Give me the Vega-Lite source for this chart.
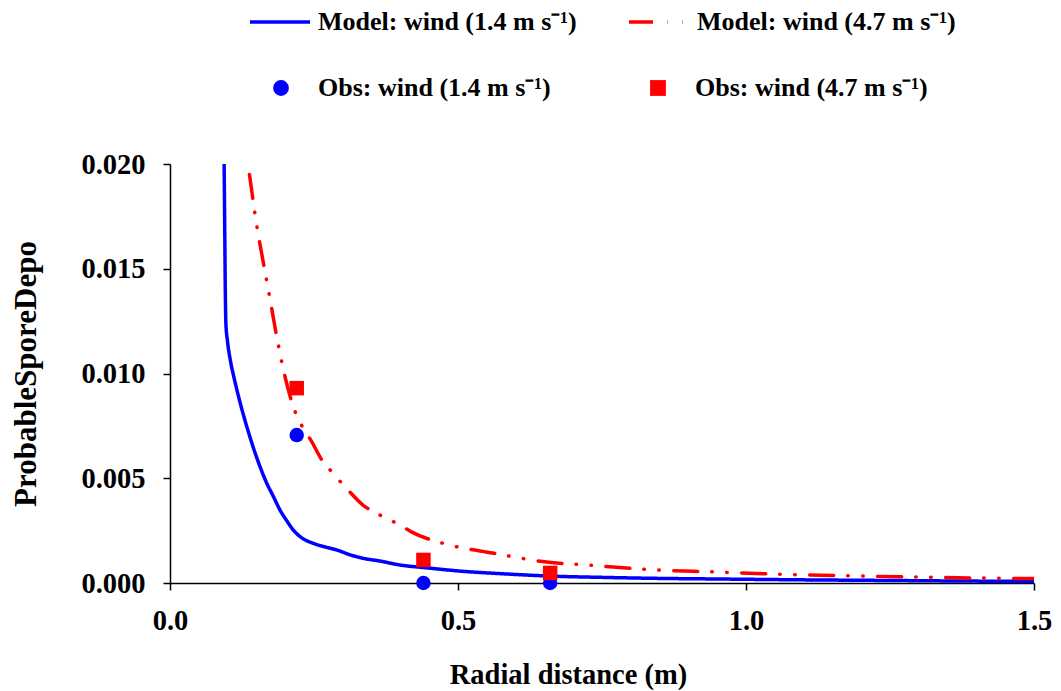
{
  "$schema": "https://vega.github.io/schema/vega-lite/v6.json",
  "width": 864,
  "height": 419,
  "autosize": {"type": "none"},
  "padding": {"left": 170, "top": 164, "right": 27, "bottom": 108},
  "background": "white",
  "config": {
    "view": {"stroke": null},
    "font": "Liberation Serif",
    "axis": {
      "grid": false,
      "domainColor": "black",
      "domainWidth": 1.5,
      "tickColor": "black",
      "tickWidth": 1.5,
      "tickSize": 7,
      "labelFont": "Liberation Serif",
      "labelFontWeight": "bold",
      "labelFontSize": 28.5,
      "labelColor": "black",
      "labelFlush": false,
      "labelOverlap": false,
      "titleFont": "Liberation Serif",
      "titleFontWeight": "bold",
      "titleFontSize": 28.5,
      "titleColor": "black"
    },
    "legend": {
      "labelFont": "Liberation Serif",
      "labelFontWeight": "bold",
      "labelFontSize": 26,
      "labelColor": "black",
      "padding": 0,
      "labelLimit": 1000
    }
  },
  "datasets": {
    "model": [
      {"series": "Model: wind (1.4 m s⁻¹)", "distance": 0.094, "deposition": 0.0200},
      {"series": "Model: wind (1.4 m s⁻¹)", "distance": 0.095, "deposition": 0.0170},
      {"series": "Model: wind (1.4 m s⁻¹)", "distance": 0.096, "deposition": 0.0140},
      {"series": "Model: wind (1.4 m s⁻¹)", "distance": 0.097, "deposition": 0.0124},
      {"series": "Model: wind (1.4 m s⁻¹)", "distance": 0.100, "deposition": 0.0115},
      {"series": "Model: wind (1.4 m s⁻¹)", "distance": 0.105, "deposition": 0.0106},
      {"series": "Model: wind (1.4 m s⁻¹)", "distance": 0.112, "deposition": 0.0097},
      {"series": "Model: wind (1.4 m s⁻¹)", "distance": 0.122, "deposition": 0.00858},
      {"series": "Model: wind (1.4 m s⁻¹)", "distance": 0.134, "deposition": 0.0074},
      {"series": "Model: wind (1.4 m s⁻¹)", "distance": 0.146, "deposition": 0.00635},
      {"series": "Model: wind (1.4 m s⁻¹)", "distance": 0.157, "deposition": 0.0055},
      {"series": "Model: wind (1.4 m s⁻¹)", "distance": 0.168, "deposition": 0.00476},
      {"series": "Model: wind (1.4 m s⁻¹)", "distance": 0.180, "deposition": 0.0041},
      {"series": "Model: wind (1.4 m s⁻¹)", "distance": 0.191, "deposition": 0.00348},
      {"series": "Model: wind (1.4 m s⁻¹)", "distance": 0.202, "deposition": 0.0030},
      {"series": "Model: wind (1.4 m s⁻¹)", "distance": 0.214, "deposition": 0.00253},
      {"series": "Model: wind (1.4 m s⁻¹)", "distance": 0.229, "deposition": 0.00215},
      {"series": "Model: wind (1.4 m s⁻¹)", "distance": 0.249, "deposition": 0.00189},
      {"series": "Model: wind (1.4 m s⁻¹)", "distance": 0.272, "deposition": 0.00170},
      {"series": "Model: wind (1.4 m s⁻¹)", "distance": 0.289, "deposition": 0.00158},
      {"series": "Model: wind (1.4 m s⁻¹)", "distance": 0.312, "deposition": 0.00135},
      {"series": "Model: wind (1.4 m s⁻¹)", "distance": 0.335, "deposition": 0.00118},
      {"series": "Model: wind (1.4 m s⁻¹)", "distance": 0.364, "deposition": 0.00105},
      {"series": "Model: wind (1.4 m s⁻¹)", "distance": 0.399, "deposition": 0.00086},
      {"series": "Model: wind (1.4 m s⁻¹)", "distance": 0.447, "deposition": 0.00072},
      {"series": "Model: wind (1.4 m s⁻¹)", "distance": 0.503, "deposition": 0.00057},
      {"series": "Model: wind (1.4 m s⁻¹)", "distance": 0.578, "deposition": 0.00044},
      {"series": "Model: wind (1.4 m s⁻¹)", "distance": 0.660, "deposition": 0.00033},
      {"series": "Model: wind (1.4 m s⁻¹)", "distance": 0.748, "deposition": 0.00027},
      {"series": "Model: wind (1.4 m s⁻¹)", "distance": 0.848, "deposition": 0.00022},
      {"series": "Model: wind (1.4 m s⁻¹)", "distance": 0.955, "deposition": 0.00019},
      {"series": "Model: wind (1.4 m s⁻¹)", "distance": 1.100, "deposition": 0.00015},
      {"series": "Model: wind (1.4 m s⁻¹)", "distance": 1.250, "deposition": 0.00012},
      {"series": "Model: wind (1.4 m s⁻¹)", "distance": 1.400, "deposition": 0.00009},
      {"series": "Model: wind (1.4 m s⁻¹)", "distance": 1.500, "deposition": 0.00008},
      {"series": "Model: wind (4.7 m s⁻¹)", "distance": 0.138, "deposition": 0.0195},
      {"series": "Model: wind (4.7 m s⁻¹)", "distance": 0.144, "deposition": 0.0183},
      {"series": "Model: wind (4.7 m s⁻¹)", "distance": 0.151, "deposition": 0.0170},
      {"series": "Model: wind (4.7 m s⁻¹)", "distance": 0.162, "deposition": 0.0153},
      {"series": "Model: wind (4.7 m s⁻¹)", "distance": 0.174, "deposition": 0.0135},
      {"series": "Model: wind (4.7 m s⁻¹)", "distance": 0.185, "deposition": 0.0118},
      {"series": "Model: wind (4.7 m s⁻¹)", "distance": 0.197, "deposition": 0.01017},
      {"series": "Model: wind (4.7 m s⁻¹)", "distance": 0.214, "deposition": 0.00842},
      {"series": "Model: wind (4.7 m s⁻¹)", "distance": 0.229, "deposition": 0.0075},
      {"series": "Model: wind (4.7 m s⁻¹)", "distance": 0.246, "deposition": 0.00675},
      {"series": "Model: wind (4.7 m s⁻¹)", "distance": 0.263, "deposition": 0.0059},
      {"series": "Model: wind (4.7 m s⁻¹)", "distance": 0.283, "deposition": 0.00524},
      {"series": "Model: wind (4.7 m s⁻¹)", "distance": 0.307, "deposition": 0.0045},
      {"series": "Model: wind (4.7 m s⁻¹)", "distance": 0.335, "deposition": 0.00372},
      {"series": "Model: wind (4.7 m s⁻¹)", "distance": 0.364, "deposition": 0.00325},
      {"series": "Model: wind (4.7 m s⁻¹)", "distance": 0.399, "deposition": 0.00277},
      {"series": "Model: wind (4.7 m s⁻¹)", "distance": 0.420, "deposition": 0.00243},
      {"series": "Model: wind (4.7 m s⁻¹)", "distance": 0.486, "deposition": 0.00181},
      {"series": "Model: wind (4.7 m s⁻¹)", "distance": 0.560, "deposition": 0.00143},
      {"series": "Model: wind (4.7 m s⁻¹)", "distance": 0.654, "deposition": 0.00100},
      {"series": "Model: wind (4.7 m s⁻¹)", "distance": 0.724, "deposition": 0.00086},
      {"series": "Model: wind (4.7 m s⁻¹)", "distance": 0.846, "deposition": 0.00062},
      {"series": "Model: wind (4.7 m s⁻¹)", "distance": 0.943, "deposition": 0.00053},
      {"series": "Model: wind (4.7 m s⁻¹)", "distance": 1.082, "deposition": 0.00040},
      {"series": "Model: wind (4.7 m s⁻¹)", "distance": 1.203, "deposition": 0.00033},
      {"series": "Model: wind (4.7 m s⁻¹)", "distance": 1.322, "deposition": 0.00027},
      {"series": "Model: wind (4.7 m s⁻¹)", "distance": 1.500, "deposition": 0.00021}
    ],
    "obs": [
      {"series": "Obs: wind (1.4 m s⁻¹)", "distance": 0.22, "deposition": 0.00706},
      {"series": "Obs: wind (1.4 m s⁻¹)", "distance": 0.44, "deposition": 0.0},
      {"series": "Obs: wind (1.4 m s⁻¹)", "distance": 0.66, "deposition": 0.0},
      {"series": "Obs: wind (4.7 m s⁻¹)", "distance": 0.22, "deposition": 0.0093},
      {"series": "Obs: wind (4.7 m s⁻¹)", "distance": 0.44, "deposition": 0.0011},
      {"series": "Obs: wind (4.7 m s⁻¹)", "distance": 0.66, "deposition": 0.00048}
    ]
  },
  "layer": [
    {
      "data": {"name": "model"},
      "mark": {"type": "line", "strokeWidth": 3.5, "strokeCap": "round", "interpolate": "monotone", "clip": true},
      "encoding": {
        "x": {
          "field": "distance", "type": "quantitative",
          "scale": {"domain": [0, 1.5], "nice": false},
          "axis": {"values": [0, 0.5, 1, 1.5], "format": ".1f", "title": "Radial distance (m)", "labelPadding": 16, "titlePadding": 26, "titleX": 398, "titleAnchor": "start", "titleAlign": "center"}
        },
        "y": {
          "field": "deposition", "type": "quantitative",
          "scale": {"domain": [0, 0.02], "nice": false},
          "axis": {"values": [0, 0.005, 0.01, 0.015, 0.02], "format": ".3f", "title": "ProbableSporeDepo", "titleFontSize": 31, "labelPadding": 18, "titlePadding": 38}
        },
        "color": {
          "field": "series", "type": "nominal",
          "scale": {"domain": ["Model: wind (1.4 m s⁻¹)", "Model: wind (4.7 m s⁻¹)"], "range": ["#0000ff", "#ff0000"]},
          "legend": {"title": null, "orient": "none", "legendX": 78, "legendY": -174, "direction": "horizontal", "columns": 2, "columnPadding": 45, "symbolType": "stroke", "symbolSize": 3600, "symbolStrokeWidth": 3.5, "labelOffset": 6}
        },
        "strokeDash": {
          "field": "series", "type": "nominal",
          "scale": {"domain": ["Model: wind (1.4 m s⁻¹)", "Model: wind (4.7 m s⁻¹)"], "range": [[1, 0], [24, 14, 0.5, 14.5, 0.5, 14.5]]},
          "legend": {"title": null, "orient": "none", "legendX": 78, "legendY": -174, "direction": "horizontal", "columns": 2, "columnPadding": 45, "symbolType": "stroke", "symbolSize": 3600, "symbolStrokeWidth": 3.5, "labelOffset": 6}
        }
      }
    },
    {
      "data": {"name": "obs"},
      "mark": {"type": "point", "filled": true, "opacity": 1, "size": 210},
      "encoding": {
        "x": {"field": "distance", "type": "quantitative"},
        "y": {"field": "deposition", "type": "quantitative"},
        "color": {
          "field": "series", "type": "nominal",
          "scale": {"domain": ["Obs: wind (1.4 m s⁻¹)", "Obs: wind (4.7 m s⁻¹)"], "range": ["#0000ff", "#ff0000"]},
          "legend": {"title": null, "orient": "none", "legendX": 98, "legendY": -89, "direction": "horizontal", "columns": 2, "columnPadding": 94, "symbolSize": 250, "symbolStrokeWidth": 0, "labelOffset": 24}
        },
        "shape": {
          "field": "series", "type": "nominal",
          "scale": {"domain": ["Obs: wind (1.4 m s⁻¹)", "Obs: wind (4.7 m s⁻¹)"], "range": ["circle", "square"]},
          "legend": {"title": null, "orient": "none", "legendX": 98, "legendY": -89, "direction": "horizontal", "columns": 2, "columnPadding": 94, "symbolSize": 250, "symbolStrokeWidth": 0, "labelOffset": 24}
        }
      }
    }
  ],
  "resolve": {"scale": {"color": "independent", "shape": "independent", "strokeDash": "independent"}}
}
